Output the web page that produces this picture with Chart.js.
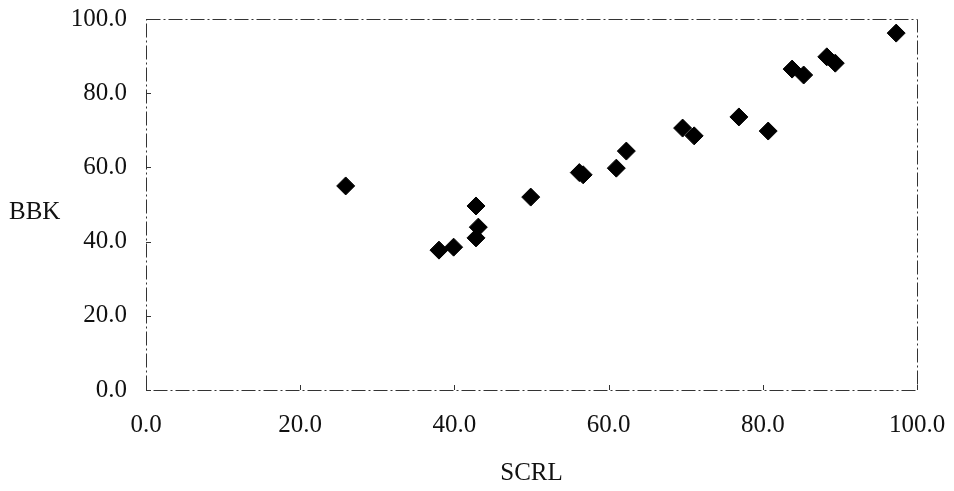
<!DOCTYPE html>
<html>
<head>
<meta charset="utf-8">
<script src="https://cdn.jsdelivr.net/npm/chart.js@4/dist/chart.umd.min.js"></script>
<style>
  html, body { margin: 0; padding: 0; background: #fff; }
  #wrap { width: 954px; height: 491px; }
</style>
</head>
<body>
<div id="wrap"><canvas id="scatterChart" width="954" height="491"></canvas></div>
<script>
// values
const scrl = [25.9, 38.0, 39.9, 42.8, 43.1, 42.8, 49.9, 56.2, 56.7, 61.0, 62.3, 69.6, 71.1, 76.9, 80.7, 83.8, 85.3, 88.3, 89.4, 97.3];
const bbk  = [55.0, 37.7, 38.5, 41.0, 43.9, 49.6, 52.0, 58.6, 58.0, 59.8, 64.4, 70.6, 68.5, 73.6, 69.8, 86.5, 84.9, 89.8, 88.1, 96.2];
const xTitle = 'SCRL';
const yTitle = 'BBK';

const points = scrl.map((v, i) => ({ x: v, y: bbk[i] }));
const serif = "'Liberation Serif', 'DejaVu Serif', serif";

// dash-dot frame round the plot, small inward ticks, horizontal y title
const framePlugin = {
  id: 'frame',
  beforeDatasetsDraw(chart) {
    const { ctx, chartArea: a, scales } = chart;
    ctx.save();
    ctx.strokeStyle = '#333';
    ctx.lineWidth = 1;
    ctx.setLineDash([14, 3, 2, 3]);
    ctx.strokeRect(a.left + 0.5, a.top + 0.5, a.right - a.left, a.bottom - a.top);
    ctx.setLineDash([]);
    ctx.beginPath();
    scales.y.ticks.forEach(t => {
      const py = Math.round(scales.y.getPixelForValue(t.value)) + 0.5;
      ctx.moveTo(a.left, py);
      ctx.lineTo(a.left + 5, py);
    });
    scales.x.ticks.forEach(t => {
      const px = Math.round(scales.x.getPixelForValue(t.value)) + 0.5;
      ctx.moveTo(px, a.bottom);
      ctx.lineTo(px, a.bottom - 5);
    });
    ctx.stroke();
    ctx.restore();
  },
  afterDraw(chart) {
    const { ctx, chartArea: a } = chart;
    ctx.save();
    ctx.fillStyle = '#111';
    ctx.font = '25px ' + serif;
    ctx.textAlign = 'left';
    ctx.textBaseline = 'middle';
    ctx.fillText(yTitle, 9, (a.top + a.bottom) / 2 + 8);
    ctx.restore();
  }
};

new Chart(document.getElementById('scatterChart'), {
  type: 'scatter',
  data: {
    datasets: [{
      data: points,
      pointStyle: 'rectRot',
      pointRadius: 9,
      pointHoverRadius: 9,
      backgroundColor: '#000',
      borderColor: '#000',
      borderWidth: 1
    }]
  },
  options: {
    responsive: false,
    animation: false,
    layout: { padding: { top: 19, right: 37, left: 0, bottom: 0 } },
    plugins: {
      legend: { display: false },
      tooltip: { enabled: false }
    },
    scales: {
      x: {
        min: 0, max: 100,
        afterFit: s => { s.height = 101; s.paddingLeft = 0; s.paddingRight = 0; },
        border: { display: false },
        grid: { display: false, drawTicks: false },
        ticks: {
          stepSize: 20,
          padding: 20,
          color: '#111',
          font: { family: serif, size: 25 },
          callback: v => v.toFixed(1)
        },
        title: {
          display: true,
          text: xTitle,
          color: '#111',
          font: { family: serif, size: 25 },
          padding: { top: 0, bottom: 3 }
        }
      },
      y: {
        min: 0, max: 100,
        afterFit: s => { s.width = 146; s.paddingTop = 0; s.paddingBottom = 0; },
        border: { display: false },
        grid: { display: false, drawTicks: false },
        ticks: {
          stepSize: 20,
          padding: 19,
          color: '#111',
          font: { family: serif, size: 25 },
          callback: v => v.toFixed(1)
        }
      }
    }
  },
  plugins: [framePlugin]
});
</script>
</body>
</html>
